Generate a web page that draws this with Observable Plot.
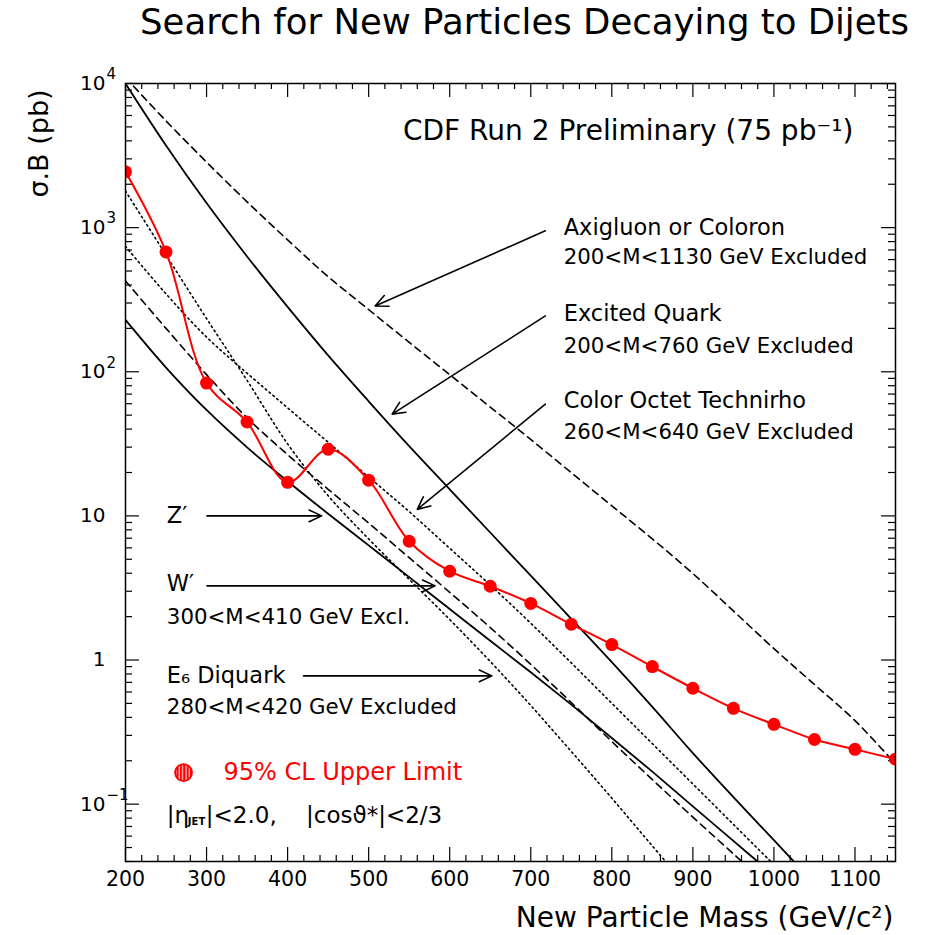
<!DOCTYPE html>
<html><head><meta charset="utf-8">
<script src="https://cdn.jsdelivr.net/npm/d3@7"></script>
<script src="https://cdn.jsdelivr.net/npm/@observablehq/plot@0.6"></script>
<style>body{margin:0;background:#fff}#chart svg{display:block}</style>
</head><body><div id="chart"></div>
<script>
// ---- data (mass in GeV/c^2, sigma.B in pb) ----
const masses = [200,250,300,350,400,450,500,550,600,650,700,750,800,850,900,950,1000,1050,1100,1150];
const limit95 = [2440,678,83.5,44.8,17.1,29.0,17.7,6.67,4.13,3.25,2.47,1.77,1.28,0.90,0.637,0.462,0.358,0.281,0.240,0.205];
const axigluon = [11000,5500,2850,1510,822,457,270,160,95.5,56.9,33.9,19.95,11.75,6.92,3.98,2.19,1.20,0.676,0.380,0.19];
const excitedQuark = [10000,3715,1480,631,282,130,62.4,30.5,15.3,7.67,3.85,1.93,0.966,0.473,0.226,0.112,0.0562,0.0282];
const technirho = [741,347,174,97.7,56.2,32.4,18.6,10.7,5.96,3.31,1.80,0.955,0.501,0.263,0.138,0.0724,0.038];
const zPrime = [229,107,54.3,29.9,17.4,10.35,6.24,3.76,2.26,1.36,0.822,0.49,0.288,0.168,0.0966,0.0556,0.032];
const wPrime = [427,200,95.5,47.9,26.6,15.3,8.91,5.13,2.95,1.68,0.933,0.507,0.272,0.148,0.0813,0.0452,0.0251];
const diquark = [1795,646,234,87.1,31.6,13.8,6.92,3.63,1.91,0.977,0.484,0.232,0.11,0.0513,0.024];

const yMajorTicks = [0.1,1,10,100,1000,10000];
const yTickBases = ["10","1","10","10","10","10"];
const yTickExponents = ["\u22121","","","2","3","4"];
const xMajorTicks = [200,300,400,500,600,700,800,900,1000,1100];

const titleText = "Search for New Particles Decaying to Dijets";
const yTitle = "\u03C3.B (pb)";
const xTitle = "New Particle Mass (GeV/c\u00B2)";

// annotation anchors in data coordinates
const modelNames = [
  {m:740.6, s:1000, t:"Axigluon or Coloron"},
  {m:740.6, s:252, t:"Excited Quark"},
  {m:740.6, s:62.8, t:"Color Octet Technirho"},
  {m:251, s:10, t:"Z\u2032"},
  {m:251, s:3.36, t:"W\u2032"},
  {m:251, s:0.776, t:"E\u2086 Diquark"}
];
const exclusions = [
  {m:740.6, s:620, t:"200<M<1130 GeV Excluded"},
  {m:740.6, s:151, t:"200<M<760 GeV Excluded"},
  {m:740.6, s:37.8, t:"260<M<640 GeV Excluded"},
  {m:251, s:1.97, t:"300<M<410 GeV Excl."},
  {m:251, s:0.468, t:"280<M<420 GeV Excluded"}
];
const arrows = [
  {m1:718, s1:951, m2:508, s2:286},
  {m1:718, s1:244, m2:529, s2:50.8},
  {m1:718, s1:59.6, m2:560, s2:11.1},
  {m1:300.5, s1:10, m2:442, s2:10},
  {m1:300.5, s1:3.27, m2:582, s2:3.27},
  {m1:419.7, s1:0.776, m2:652, s2:0.776}
];
const cdfNote = {m:1098, s:4700, t:"CDF Run 2 Preliminary (75 pb\u207B\u00B9)"};
const legendNote = {m:321, s:0.1656, mk:271.6, t:"95% CL Upper Limit"};
const cutsNote = {m:251, s:0.0828};

// ---- build tables ----
const table = (vals) => vals.map((s,i)=>({m:masses[i], s}));
const limitData = table(limit95);
const yLabelData = yMajorTicks.map((v,i)=>({v, b:yTickBases[i], e:yTickExponents[i]}));

// ---- layout ----
const W = 928, H = 935, mL = 125, mR = 33, mT = 83, mB = 74;
const fw = W - mL - mR, fh = H - mT - mB;
const yMinor = [];
[0.01,0.1,1,10,100,1000].forEach(d => { for (let k=2;k<=9;k++){ const v=k*d; if (v>=0.04 && v<10000) yMinor.push(v); } });
const xMinor = d3.range(200, 1151, 20).filter(v => v % 100 !== 0);

const theory = (vals, dash, sw) => Plot.line(table(vals), {x:"m", y:"s", stroke:"black", strokeWidth:sw, strokeDasharray:dash, curve:"catmull-rom", clip:true});

const chart = Plot.plot({
  width: W, height: H,
  marginLeft: mL, marginRight: mR, marginTop: mT, marginBottom: mB,
  style: {fontFamily: "DejaVu Sans", background: "#fff", color: "#000"},
  x: {domain: [200, 1150], axis: null},
  y: {type: "log", domain: [0.04, 10000], axis: null},
  marks: [
    // ticks (inside, on all four sides)
    Plot.ruleY(yMajorTicks, {y: d=>d, insetRight: fw-14, strokeWidth: 1.2}),
    Plot.ruleY(yMajorTicks, {y: d=>d, insetLeft: fw-14, strokeWidth: 1.2}),
    Plot.ruleY(yMinor, {y: d=>d, insetRight: fw-7, strokeWidth: 1.2}),
    Plot.ruleY(yMinor, {y: d=>d, insetLeft: fw-7, strokeWidth: 1.2}),
    Plot.ruleX(xMajorTicks, {x: d=>d, insetTop: fh-14, strokeWidth: 1.2}),
    Plot.ruleX(xMajorTicks, {x: d=>d, insetBottom: fh-14, strokeWidth: 1.2}),
    Plot.ruleX(xMinor, {x: d=>d, insetTop: fh-6, strokeWidth: 1.2}),
    Plot.ruleX(xMinor, {x: d=>d, insetBottom: fh-6, strokeWidth: 1.2}),
    // tick labels
    Plot.text(yLabelData, {y: "v", text: "b", frameAnchor: "left", textAnchor: "end", lineAnchor: "middle", dx: -20, fontSize: 20}),
    Plot.text(yLabelData.filter(d => d.e), {y: "v", text: "e", frameAnchor: "left", textAnchor: "start", lineAnchor: "middle", dx: -19, dy: -9, fontSize: 15}),
    Plot.text(xMajorTicks, {x: d=>d, text: d=>String(d), frameAnchor: "bottom", textAnchor: "middle", lineAnchor: "middle", dy: 18, fontSize: 20.5}),
    // theory curves
    theory(axigluon, "7,5", 1.6),
    theory(excitedQuark, null, 1.8),
    theory(technirho, "1.6,3.4", 1.6),
    theory(zPrime, null, 1.8),
    theory(wPrime, "7,5", 1.6),
    theory(diquark, "1.6,3.4", 1.6),
    // 95% CL limit
    Plot.line(limitData, {x:"m", y:"s", stroke:"#ff0000", strokeWidth:2, curve:"catmull-rom", clip:true}),
    Plot.dot(limitData, {x:"m", y:"s", r:6.5, fill:"#ff0000", clip:true}),
    // annotations
    Plot.arrow(arrows, {x1:"m1", y1:"s1", x2:"m2", y2:"s2", headLength: 13, headAngle: 50, strokeWidth: 1.6, stroke:"black"}),
    Plot.text(modelNames, {x:"m", y:"s", text:"t", textAnchor:"start", fontSize: 22.5}),
    Plot.text(exclusions, {x:"m", y:"s", text:"t", textAnchor:"start", fontSize: 21.3}),
    Plot.text([cdfNote], {x:"m", y:"s", text:"t", textAnchor:"end", fontSize: 28}),
    Plot.dot([legendNote], {x:"mk", y:"s", r:8.5, fill:"url(#redhatch)", stroke:"#ff0000", strokeWidth:1.8}),
    Plot.text([legendNote], {x:"m", y:"s", text:"t", textAnchor:"start", fontSize: 24, fill:"#ff0000"}),
    Plot.text([cutsNote], {x:"m", y:"s", text: ()=>"|\u03B7", textAnchor:"start", fontSize: 23}),
    Plot.text([cutsNote], {x:"m", y:"s", text: ()=>"JET", textAnchor:"start", fontSize: 10, fontWeight:"bold", dx: 21, dy: 6}),
    Plot.text([cutsNote], {x:"m", y:"s", text: ()=>"|<2.0,    |cos\u03D1*|<2/3", textAnchor:"start", fontSize: 23, dx: 39}),
    // titles
    Plot.text([titleText], {text: d=>d, frameAnchor:"top", lineAnchor:"middle", textAnchor:"middle", dx: 14, dy: -61, fontSize: 35.5}),
    Plot.text([yTitle], {text: d=>d, frameAnchor:"top-left", rotate: -90, textAnchor:"middle", lineAnchor:"middle", dx: -86, dy: 60, fontSize: 27}),
    Plot.text([xTitle], {text: d=>d, frameAnchor:"bottom-right", textAnchor:"end", lineAnchor:"middle", dx: -2, dy: 57, fontSize: 28}),
    Plot.frame({stroke:"black", strokeWidth: 1.5})
  ]
});
// hatch fill for the legend marker
const ns = "http://www.w3.org/2000/svg";
const defs = document.createElementNS(ns, "defs");
const pat = document.createElementNS(ns, "pattern");
pat.setAttribute("id", "redhatch"); pat.setAttribute("patternUnits", "userSpaceOnUse");
pat.setAttribute("width", "3.4"); pat.setAttribute("height", "20");
const bg = document.createElementNS(ns, "rect");
bg.setAttribute("width", "3.4"); bg.setAttribute("height", "20"); bg.setAttribute("fill", "#ff0000");
const ln = document.createElementNS(ns, "rect");
ln.setAttribute("x", "1.4"); ln.setAttribute("width", "1"); ln.setAttribute("height", "20"); ln.setAttribute("fill", "#ffffff");
pat.appendChild(bg); pat.appendChild(ln); defs.appendChild(pat);
chart.insertBefore(defs, chart.firstChild);
document.getElementById("chart").appendChild(chart);
</script>
</body></html>
